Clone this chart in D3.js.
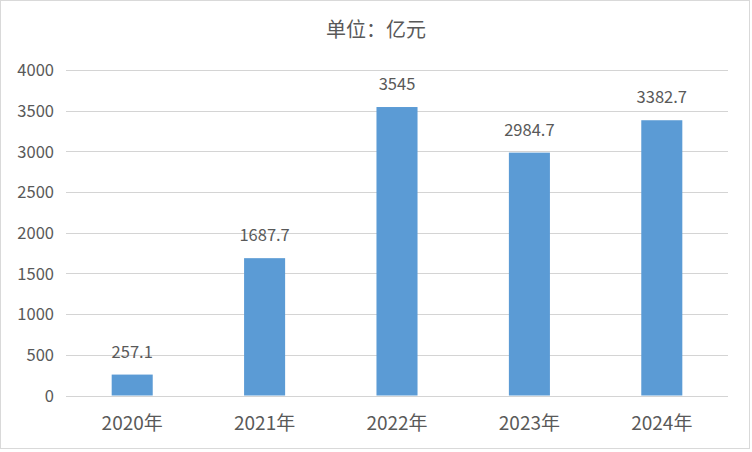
<!DOCTYPE html>
<html><head><meta charset="utf-8">
<script src="https://cdn.jsdelivr.net/npm/d3@7"></script>
<style>
html,body{margin:0;padding:0;background:#fff;}
svg{display:block;}
text{font-family:"Noto Sans CJK SC","Microsoft YaHei",sans-serif;fill:#595959;}
</style></head>
<body>
<script>
const categories = ["2020年","2021年","2022年","2023年","2024年"];
const values = [257.1, 1687.7, 3545, 2984.7, 3382.7];
const valueLabels = ["257.1","1687.7","3545","2984.7","3382.7"];
const yTicks = [0,500,1000,1500,2000,2500,3000,3500,4000];
const title = "单位：亿元";

const W = 752, H = 452;
const svg = d3.select("body").append("svg").attr("width", W).attr("height", H);

svg.append("rect").attr("x",0.5).attr("y",0.5).attr("width",W-3).attr("height",H-4)
  .attr("fill","#fff").attr("stroke","#d9d9d9").attr("stroke-width",1);

const x = d3.scaleBand().domain(categories).range([66,728]).paddingInner(0.69).paddingOuter(0.345);
const y = d3.scaleLinear().domain([0,4000]).range([395.5,70]);

// gridlines
svg.append("g").selectAll("line").data(yTicks).join("line")
  .attr("x1",66).attr("x2",728)
  .attr("y1",d=>Math.round(y(d))+0.5).attr("y2",d=>Math.round(y(d))+0.5)
  .attr("stroke","#d4d4d4").attr("stroke-width",1.2);

// y axis labels
const yAxis = d3.axisLeft(y).tickValues(yTicks).tickFormat(d3.format("d")).tickSize(0).tickPadding(0);
const ya = svg.append("g").attr("transform","translate(54,0)").call(yAxis);
ya.select(".domain").remove();
ya.selectAll("text").attr("font-size",16.5).attr("fill","#595959")
  .attr("font-family",'"Noto Sans CJK SC",sans-serif').attr("dy","0.35em");

// bars
svg.append("g").selectAll("rect").data(values).join("rect")
  .attr("x",(d,i)=>x(categories[i]))
  .attr("width",x.bandwidth())
  .attr("y",d=>y(d))
  .attr("height",d=>y(0)-y(d))
  .attr("fill","#5b9bd5");

// data labels
svg.append("g").selectAll("text").data(values).join("text")
  .attr("x",(d,i)=>x(categories[i])+x.bandwidth()/2)
  .attr("y",d=>y(d)-17)
  .attr("text-anchor","middle").attr("font-size",16.5)
  .text((d,i)=>valueLabels[i]);

// x axis labels
const xAxis = d3.axisBottom(x).tickSize(0).tickPadding(0);
const xa = svg.append("g").attr("transform","translate(0,430)").call(xAxis);
xa.select(".domain").remove();
xa.selectAll("text").attr("font-size",19).attr("fill","#595959")
  .attr("font-family",'"Noto Sans CJK SC",sans-serif').attr("dy",0);

// title
svg.append("text").attr("x",376).attr("y",37).attr("text-anchor","middle")
  .attr("font-size",20).text(title);
</script>
</body></html>
